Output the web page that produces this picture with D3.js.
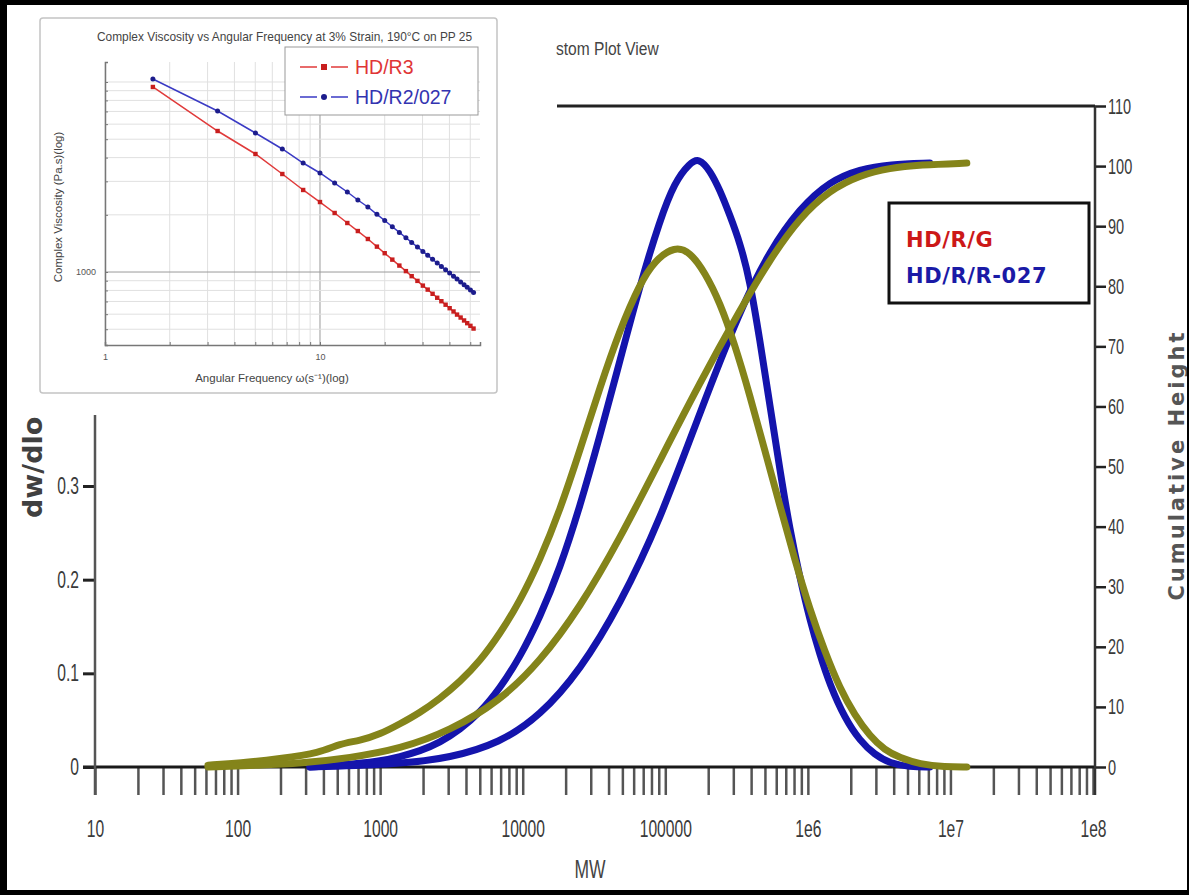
<!DOCTYPE html>
<html>
<head>
<meta charset="utf-8">
<script src="https://cdn.jsdelivr.net/npm/d3@7/dist/d3.min.js"></script>
<style>
body { margin: 0; background: #fff; }
svg { display: block; }
</style>
</head>
<body>
<script>
var w = 1189;
var h = 895;

// inset: complex viscosity vs angular frequency
var freq = [1.67, 3.34, 5.01, 6.68, 8.35, 10.0, 11.7, 13.4, 15.0, 16.7, 18.4, 20.0, 21.7, 23.4, 25.1, 26.7,
    28.4, 30.1, 31.7, 33.4, 35.1, 36.7, 38.4, 40.1, 41.8, 43.4, 45.1, 46.8, 48.4, 50.1, 51.8];
var etaR3 = [9413, 5521, 4179, 3279, 2702, 2335, 2045, 1811, 1643, 1492, 1360, 1256, 1162, 1081, 1011, 951,
    898, 848, 808, 768, 732, 702, 673, 645, 620, 597, 576, 556, 538, 521, 504];
var etaR2 = [10370, 7035, 5390, 4440, 3747, 3320, 2940, 2637, 2393, 2199, 2012, 1867, 1731, 1616, 1515, 1432,
    1354, 1284, 1224, 1166, 1115, 1070, 1027, 987, 949, 918, 886, 856, 831, 805, 781];
var freqLabels = [1, 10];
var etaLabels = [1000];
var insetNames = ['HD/R3', 'HD/R2/027'];

// main plot: MWD and cumulative curves
var mwTicks = [10, 100, 1000, 10000, 100000, 1e6, 1e7, 1e8];
var mwTickText = ['10', '100', '1000', '10000', '100000', '1e6', '1e7', '1e8'];
var dwTicks = [0, 0.1, 0.2, 0.3];
var cumTicks = [0, 10, 20, 30, 40, 50, 60, 70, 80, 90, 100, 110];
var mainNames = ['HD/R/G', 'HD/R/R-027'];

var mwG = [62, 104, 198, 378, 522, 721, 1000, 1377, 1901, 2624, 3631, 5012, 6918, 9550, 13210, 18240,
    25180, 34750, 48080, 66370, 84530, 116700, 148900, 189700, 241500, 307600, 391700, 498900, 636800,
    810900, 1033000, 1315000, 1675000, 2138000, 2723000, 3467000, 4416000, 6095000, 9141000, 13030000];
var dwG = [0.002, 0.004, 0.009, 0.015, 0.025, 0.028, 0.035, 0.046, 0.058, 0.073, 0.091, 0.113, 0.142, 0.177,
    0.221, 0.274, 0.338, 0.405, 0.467, 0.516, 0.541, 0.556, 0.550, 0.528, 0.496, 0.451, 0.397, 0.338, 0.279,
    0.221, 0.168, 0.123, 0.084, 0.055, 0.033, 0.018, 0.010, 0.003, 0, 0];

var mwR = [322, 522, 1000, 1377, 1901, 2624, 3631, 5012, 6918, 9550, 13210, 18240, 25180, 34750, 48080,
    66370, 91620, 116700, 148900, 172200, 205600, 241500, 283800, 333400, 391700, 460300, 542000, 636800,
    748200, 879000, 1033000, 1213000, 1426000, 1816000, 2317000, 2951000, 3758000, 5188000, 7161000];
var dwR = [0, 0.002, 0.006, 0.011, 0.017, 0.026, 0.040, 0.058, 0.084, 0.117, 0.160, 0.212, 0.278, 0.353,
    0.434, 0.514, 0.584, 0.625, 0.645, 0.650, 0.637, 0.616, 0.589, 0.560, 0.520, 0.456, 0.386, 0.317, 0.253,
    0.202, 0.157, 0.120, 0.088, 0.052, 0.028, 0.013, 0.004, 0, 0];

var mwCumG = [62, 144, 274, 614, 1377, 3083, 6918, 13210, 25180, 48080, 91620, 174900, 333400, 542000,
    879000, 1426000, 2317000, 3758000, 6095000, 13030000];
var cumG = [0, 0.3, 0.6, 1.5, 3, 6, 11, 17.5, 26.5, 38, 51, 64, 76, 84.5, 91.5, 96, 98.5, 99.7, 100.2, 100.5];

var mwCumR = [322, 1377, 3083, 6918, 13210, 25180, 48080, 91620, 174900, 333400, 542000, 879000, 1426000,
    2317000, 3758000, 7161000];
var cumR = [0, 0.5, 1.5, 4, 8.5, 16, 27, 41, 59, 76, 86, 93, 97.5, 99.5, 100.3, 100.5];

var olive = '#84841a';
var blue = '#1414ac';
var labelFont = '"Liberation Sans", Arial, sans-serif';

var svg = d3
.select('body')
.append('svg')
.attr('width', w)
.attr('height', h);

svg.append('rect').attr('width', w).attr('height', h).attr('fill', '#fff');

// ---- main plot ----
var x = d3.scaleLog().domain([10, 1e8]).range([95, 1093]);
var yL = d3.scaleLinear().domain([0, 0.3]).range([767, 486]);
var yR = d3.scaleLinear().domain([0, 110]).range([767, 106]);

function squeeze(sel, sx, dx) {
    sel.selectAll('text')
    .attr('transform', 'scale(' + sx + ',1)')
    .attr('x', function() { return dx / sx; });
}

var xAxis = svg.append('g')
.attr('transform', 'translate(0,767)')
.call(d3.axisBottom(x)
    .tickValues(x.ticks())
    .tickSize(28)
    .tickPadding(26)
    .tickFormat(function(d) {
        var i = mwTicks.indexOf(d);
        return i < 0 ? '' : mwTickText[i];
    }));
xAxis.select('.domain').remove();
xAxis.selectAll('line').attr('stroke', '#555').attr('stroke-width', 2.5);
xAxis.selectAll('text')
.attr('font-family', labelFont)
.attr('font-size', 23)
.attr('fill', '#3a3a3a');
squeeze(xAxis, 0.68, 0);

svg.append('line')
.attr('x1', 83).attr('x2', 1095)
.attr('y1', 767).attr('y2', 767)
.attr('stroke', '#1a1a1a')
.attr('stroke-width', 3);

var lAxis = svg.append('g')
.attr('transform', 'translate(95,0)')
.call(d3.axisLeft(yL).tickValues(dwTicks).tickSize(12).tickPadding(4).tickFormat(d3.format('')));
lAxis.select('.domain').remove();
lAxis.selectAll('line').attr('stroke', '#222').attr('stroke-width', 3);
lAxis.selectAll('text')
.attr('font-family', labelFont)
.attr('font-size', 23)
.attr('fill', '#3a3a3a');
squeeze(lAxis, 0.68, -16);

svg.append('line')
.attr('x1', 95).attr('x2', 95)
.attr('y1', 415).attr('y2', 795)
.attr('stroke', '#555')
.attr('stroke-width', 2.5);

var rAxis = svg.append('g')
.attr('transform', 'translate(1095,0)')
.call(d3.axisRight(yR).tickValues(cumTicks).tickSize(11).tickPadding(2));
rAxis.select('.domain').remove();
rAxis.selectAll('line').attr('stroke', '#222').attr('stroke-width', 2.5);
rAxis.selectAll('text')
.attr('font-family', labelFont)
.attr('font-size', 22)
.attr('fill', '#3a3a3a');
squeeze(rAxis, 0.66, 13);

svg.append('line')
.attr('x1', 1095).attr('x2', 1095)
.attr('y1', 106).attr('y2', 795)
.attr('stroke', '#333')
.attr('stroke-width', 2.5);

svg.append('line')
.attr('x1', 557).attr('x2', 1095)
.attr('y1', 106).attr('y2', 106)
.attr('stroke', '#222')
.attr('stroke-width', 3);

var dwLine = d3.line()
.x(function(d) { return x(d[0]); })
.y(function(d) { return yL(d[1]); })
.curve(d3.curveBasis);

var cumLine = d3.line()
.x(function(d) { return x(d[0]); })
.y(function(d) { return yR(d[1]); })
.curve(d3.curveBasis);

var curves = [
    { d: dwLine(d3.zip(mwR, dwR)), c: blue },
    { d: cumLine(d3.zip(mwCumR, cumR)), c: blue },
    { d: dwLine(d3.zip(mwG, dwG)), c: olive },
    { d: cumLine(d3.zip(mwCumG, cumG)), c: olive }
];

svg.append('g')
.selectAll('path')
.data(curves)
.enter()
.append('path')
.attr('d', function(d) { return d.d; })
.attr('fill', 'none')
.attr('stroke', function(d) { return d.c; })
.attr('stroke-width', 7)
.attr('stroke-linejoin', 'round')
.attr('stroke-linecap', 'round');

svg.append('text')
.attr('transform', 'translate(590,878) scale(0.7,1)')
.attr('text-anchor', 'middle')
.attr('font-family', labelFont)
.attr('font-size', 25)
.attr('fill', '#444')
.text('MW');

svg.append('text')
.attr('transform', 'translate(556,55) scale(0.82,1)')
.attr('font-family', labelFont)
.attr('font-size', 19)
.attr('fill', '#444')
.text('stom Plot View');

svg.append('text')
.attr('transform', 'translate(42,518) rotate(-90)')
.attr('font-family', '"DejaVu Sans", sans-serif')
.attr('font-weight', 'bold')
.attr('font-size', 27)
.attr('fill', '#404040')
.text('dw/dlo');

svg.append('text')
.attr('transform', 'translate(1184,465) rotate(-90)')
.attr('text-anchor', 'middle')
.attr('font-family', '"DejaVu Sans", sans-serif')
.attr('font-weight', 'bold')
.attr('font-size', 21)
.attr('letter-spacing', 3)
.attr('fill', '#555')
.text('Cumulative Height');

// main legend
svg.append('rect')
.attr('x', 889).attr('y', 203)
.attr('width', 200).attr('height', 100)
.attr('fill', '#fff')
.attr('stroke', '#111')
.attr('stroke-width', 3);

svg.append('g')
.selectAll('text')
.data(mainNames)
.enter()
.append('text')
.attr('x', 906)
.attr('y', function(d, i) { return 247 + i * 36; })
.attr('font-family', '"DejaVu Sans", sans-serif')
.attr('font-weight', 'bold')
.attr('font-size', 21)
.attr('letter-spacing', 0.6)
.attr('fill', function(d, i) { return i ? '#1a1aa6' : '#cc1818'; })
.text(function(d) { return d; });

// ---- inset ----
var inset = svg.append('g');

inset.append('rect')
.attr('x', 40).attr('y', 18)
.attr('width', 457).attr('height', 375)
.attr('rx', 3)
.attr('fill', '#fff')
.attr('stroke', '#c4c4c4')
.attr('stroke-width', 1.5);

var ix = d3.scaleLog().domain([1, 55.5]).range([105, 480]);
var iy = d3.scaleLog().domain([413, 12740]).range([345, 62]);

inset.append('g')
.selectAll('line')
.data(ix.ticks())
.enter()
.append('line')
.attr('x1', ix).attr('x2', ix)
.attr('y1', 62).attr('y2', 345)
.attr('stroke', function(d) { return d === 10 ? '#9a9a9a' : '#e0e0e0'; })
.attr('stroke-width', 1);

inset.append('g')
.selectAll('line')
.data(iy.ticks())
.enter()
.append('line')
.attr('x1', 105).attr('x2', 480)
.attr('y1', iy).attr('y2', iy)
.attr('stroke', function(d) { return d === 1000 ? '#9a9a9a' : '#e0e0e0'; })
.attr('stroke-width', 1);

var ixAxis = inset.append('g')
.attr('transform', 'translate(0,345)')
.call(d3.axisBottom(ix).tickValues(ix.ticks()).tickSize(-3).tickPadding(9)
    .tickFormat(function(d) { return freqLabels.indexOf(d) < 0 ? '' : d; }));
ixAxis.select('.domain').attr('stroke', '#777').attr('stroke-width', 1.5);
ixAxis.selectAll('line').attr('stroke', '#777');
ixAxis.selectAll('text').attr('font-family', labelFont).attr('font-size', 9).attr('fill', '#555');

var iyAxis = inset.append('g')
.attr('transform', 'translate(105,0)')
.call(d3.axisLeft(iy).tickValues(iy.ticks()).tickSize(-3).tickPadding(9)
    .tickFormat(function(d) { return etaLabels.indexOf(d) < 0 ? '' : d; }));
iyAxis.select('.domain').attr('stroke', '#777').attr('stroke-width', 1.5);
iyAxis.selectAll('line').attr('stroke', '#777');
iyAxis.selectAll('text').attr('font-family', labelFont).attr('font-size', 9).attr('fill', '#555');

inset.append('text')
.attr('x', 97).attr('y', 41)
.attr('font-family', labelFont)
.attr('font-size', 11.9)
.attr('fill', '#444')
.text('Complex Viscosity vs Angular Frequency at 3% Strain, 190\u00B0C on PP 25');

inset.append('text')
.attr('x', 272).attr('y', 382)
.attr('text-anchor', 'middle')
.attr('font-family', labelFont)
.attr('font-size', 11.5)
.attr('fill', '#444')
.text('Angular Frequency \u03C9(s\u207B\u00B9)(log)');

inset.append('text')
.attr('transform', 'translate(62,207) rotate(-90)')
.attr('text-anchor', 'middle')
.attr('font-family', labelFont)
.attr('font-size', 11.5)
.attr('fill', '#444')
.text('Complex Viscosity (Pa.s)(log)');

var iLine = d3.line()
.x(function(d) { return ix(d[0]); })
.y(function(d) { return iy(d[1]); });

var red = '#e03a3a';
var ired = '#c81e1e';
var iblue = '#3a3ac4';
var inavy = '#1c1c8c';

inset.append('path')
.attr('d', iLine(d3.zip(freq, etaR3)))
.attr('fill', 'none')
.attr('stroke', red)
.attr('stroke-width', 1.5);

inset.append('path')
.attr('d', iLine(d3.zip(freq, etaR2)))
.attr('fill', 'none')
.attr('stroke', iblue)
.attr('stroke-width', 1.5);

inset.append('g')
.selectAll('rect')
.data(d3.zip(freq, etaR3))
.enter()
.append('rect')
.attr('x', function(d) { return ix(d[0]) - 2.2; })
.attr('y', function(d) { return iy(d[1]) - 2.2; })
.attr('width', 4.4).attr('height', 4.4)
.attr('fill', ired);

inset.append('g')
.selectAll('circle')
.data(d3.zip(freq, etaR2))
.enter()
.append('circle')
.attr('cx', function(d) { return ix(d[0]); })
.attr('cy', function(d) { return iy(d[1]); })
.attr('r', 2.5)
.attr('fill', inavy);

inset.append('rect')
.attr('x', 285).attr('y', 47)
.attr('width', 193).attr('height', 68)
.attr('fill', '#fff')
.attr('stroke', '#999')
.attr('stroke-width', 1);

var lg = inset.append('g')
.selectAll('g')
.data(insetNames)
.enter()
.append('g')
.attr('transform', function(d, i) { return 'translate(0,' + (67 + i * 30) + ')'; });

lg.append('line')
.attr('x1', 300).attr('x2', 317)
.attr('stroke', function(d, i) { return i ? iblue : red; })
.attr('stroke-width', 1.5);
lg.append('line')
.attr('x1', 331).attr('x2', 348)
.attr('stroke', function(d, i) { return i ? iblue : red; })
.attr('stroke-width', 1.5);
lg.each(function(d, i) {
    var g = d3.select(this);
    if (i) g.append('circle').attr('cx', 324).attr('r', 3).attr('fill', inavy);
    else g.append('rect').attr('x', 321).attr('y', -3).attr('width', 6).attr('height', 6).attr('fill', ired);
});
lg.append('text')
.attr('x', 355)
.attr('dy', '0.36em')
.attr('font-family', labelFont)
.attr('font-size', 19.5)
.attr('fill', function(d, i) { return i ? '#3333b0' : '#e03535'; })
.text(function(d) { return d; });

// outer frame
svg.append('rect').attr('x', 0).attr('y', 0).attr('width', 7).attr('height', h).attr('fill', '#000');
svg.append('rect').attr('x', 0).attr('y', 0).attr('width', w).attr('height', 5).attr('fill', '#000');
svg.append('rect').attr('x', 0).attr('y', h - 5).attr('width', w).attr('height', 5).attr('fill', '#000');
svg.append('rect').attr('x', w - 2).attr('y', 0).attr('width', 2).attr('height', h).attr('fill', '#000');
</script>
</body>
</html>
